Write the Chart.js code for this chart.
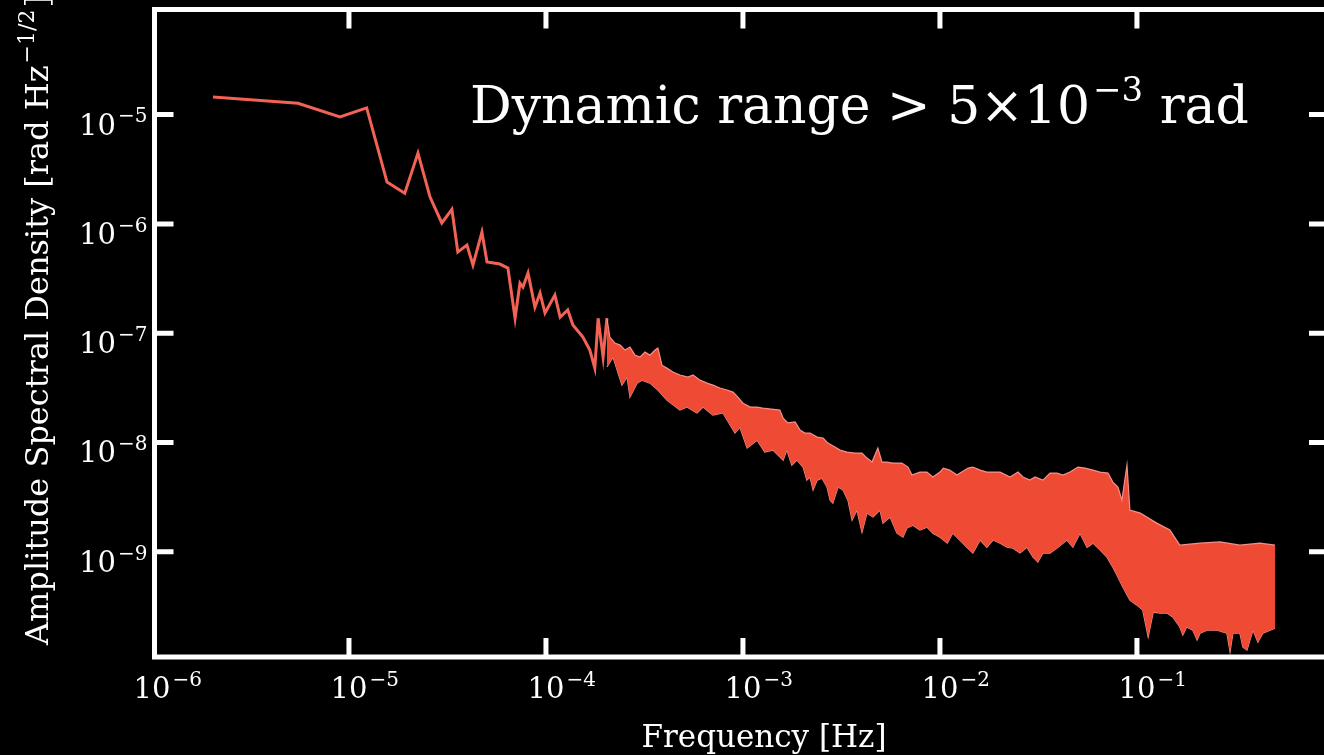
<!DOCTYPE html>
<html>
<head>
<meta charset="utf-8">
<script src="https://cdn.jsdelivr.net/npm/chart.js@4.4.1/dist/chart.umd.min.js"></script>
<style>
  html, body { margin: 0; padding: 0; background: #000; overflow: hidden; }
  #wrap { position: absolute; left: 0; top: 0; width: 1324px; height: 755px; overflow: hidden; }
</style>
</head>
<body>
<div id="wrap"><canvas id="asd" width="1340" height="755"></canvas></div>
<script>
// low-frequency part, a single trace
const lineFreq = [2.04e-6, 5.51e-6, 9.0e-6, 1.23e-5, 1.56e-5, 1.92e-5, 2.24e-5, 2.58e-5, 2.96e-5, 3.33e-5,
  3.57e-5, 3.97e-5, 4.26e-5, 4.73e-5, 5.02e-5, 5.83e-5, 6.41e-5, 6.97e-5, 7.38e-5, 7.64e-5,
  8.11e-5, 8.79e-5, 9.33e-5, 9.89e-5, 1.11e-4, 1.18e-4, 1.29e-4, 1.37e-4, 1.54e-4, 1.67e-4,
  1.77e-4, 1.84e-4, 1.95e-4, 2.04e-4];
const lineAsd = [1.45e-5, 1.27e-5, 9.5e-6, 1.15e-5, 2.41e-6, 1.91e-6, 4.44e-6, 1.76e-6, 1.02e-6, 1.36e-6,
  5.52e-7, 6.40e-7, 4.20e-7, 8.41e-7, 4.48e-7, 4.29e-7, 3.94e-7, 1.37e-7, 2.87e-7, 2.64e-7,
  3.55e-7, 1.73e-7, 2.33e-7, 1.53e-7, 2.23e-7, 1.40e-7, 1.63e-7, 1.19e-7, 9.2e-8, 7.0e-8,
  4.80e-8, 1.37e-7, 6.04e-8, 1.37e-7];

// high-frequency part, the noise band: upper edge
const upperFreq = [2.04e-4, 2.11e-4, 2.24e-4, 2.38e-4, 2.52e-4, 2.67e-4, 2.83e-4, 3.00e-4, 3.18e-4, 3.37e-4,
  3.58e-4, 3.70e-4, 3.88e-4, 4.11e-4, 4.41e-4, 4.79e-4, 5.26e-4, 5.58e-4, 6.05e-4, 6.57e-4,
  7.04e-4, 7.64e-4, 8.30e-4, 8.90e-4, 9.43e-4, 1.00e-3, 1.09e-3, 1.18e-3, 1.26e-3, 1.54e-3,
  1.60e-3, 1.69e-3, 1.84e-3, 1.95e-3, 2.06e-3, 2.19e-3, 2.38e-3, 2.55e-3, 2.70e-3, 2.93e-3,
  3.11e-3, 3.37e-3, 3.70e-3, 4.02e-3, 4.26e-3, 4.52e-3, 4.84e-3, 5.08e-3, 5.38e-3, 5.77e-3,
  6.41e-3, 6.88e-3, 7.21e-3, 7.91e-3, 8.59e-3, 9.21e-3, 1.00e-2, 1.04e-2, 1.12e-2, 1.22e-2,
  1.29e-2, 1.39e-2, 1.47e-2, 1.60e-2, 1.73e-2, 1.86e-2, 2.02e-2, 2.27e-2, 2.49e-2, 2.64e-2,
  2.86e-2, 3.04e-2, 3.33e-2, 3.62e-2, 3.93e-2, 4.21e-2, 4.57e-2, 5.02e-2, 5.45e-2, 5.98e-2,
  6.49e-2, 7.13e-2, 7.55e-2, 8.01e-2, 8.39e-2, 8.90e-2, 9.21e-2, 1.04e-1, 1.26e-1, 1.47e-1,
  1.65e-1, 2.09e-1, 2.64e-1, 3.33e-1, 4.21e-1, 5.02e-1];
const upperAsd = [1.37e-7, 9.21e-8, 8.12e-8, 7.78e-8, 7.01e-8, 7.46e-8, 6.30e-8, 6.04e-8, 6.72e-8, 6.30e-8,
  7.01e-8, 7.31e-8, 5.10e-8, 4.79e-8, 4.41e-8, 4.14e-8, 3.97e-8, 4.14e-8, 3.72e-8, 3.49e-8,
  3.35e-8, 3.15e-8, 3.02e-8, 2.89e-8, 2.60e-8, 2.29e-8, 2.11e-8, 2.11e-8, 2.06e-8, 1.98e-8,
  1.67e-8, 1.51e-8, 1.54e-8, 1.30e-8, 1.22e-8, 1.22e-8, 1.12e-8, 1.10e-8, 9.87e-9, 9.08e-9,
  8.52e-9, 8.17e-9, 8.00e-9, 8.00e-9, 7.20e-9, 6.62e-9, 8.89e-9, 6.62e-9, 6.62e-9, 6.48e-9,
  6.48e-9, 5.96e-9, 5.03e-9, 5.36e-9, 5.36e-9, 4.83e-9, 5.36e-9, 5.83e-9, 5.59e-9, 5.03e-9,
  5.36e-9, 5.83e-9, 5.96e-9, 5.59e-9, 5.36e-9, 5.36e-9, 5.36e-9, 4.83e-9, 5.36e-9, 4.83e-9,
  4.53e-9, 4.83e-9, 4.53e-9, 5.25e-9, 5.25e-9, 5.03e-9, 5.36e-9, 5.96e-9, 5.83e-9, 5.59e-9,
  5.36e-9, 5.25e-9, 4.34e-9, 3.91e-9, 2.97e-9, 6.21e-9, 2.41e-9, 2.26e-9, 1.83e-9, 1.58e-9,
  1.15e-9, 1.20e-9, 1.23e-9, 1.15e-9, 1.20e-9, 1.15e-9];

// noise band: lower edge
const lowerFreq = [2.04e-4, 2.19e-4, 2.43e-4, 2.58e-4, 2.67e-4, 2.90e-4, 3.07e-4, 3.37e-4, 3.70e-4, 4.11e-4,
  4.79e-4, 5.20e-4, 5.84e-4, 6.27e-4, 7.04e-4, 7.91e-4, 9.11e-4, 9.65e-4, 1.05e-3, 1.18e-3,
  1.29e-3, 1.42e-3, 1.60e-3, 1.67e-3, 1.77e-3, 1.88e-3, 2.02e-3, 2.11e-3, 2.19e-3, 2.27e-3,
  2.38e-3, 2.52e-3, 2.67e-3, 2.77e-3, 2.86e-3, 3.04e-3, 3.22e-3, 3.41e-3, 3.58e-3, 3.79e-3,
  4.02e-3, 4.26e-3, 4.57e-3, 4.96e-3, 5.14e-3, 5.58e-3, 6.05e-3, 6.49e-3, 6.80e-3, 7.29e-3,
  7.91e-3, 8.59e-3, 9.21e-3, 1.00e-2, 1.09e-2, 1.16e-2, 1.26e-2, 1.37e-2, 1.47e-2, 1.60e-2,
  1.73e-2, 1.86e-2, 2.02e-2, 2.19e-2, 2.35e-2, 2.55e-2, 2.76e-2, 2.97e-2, 3.14e-2, 3.33e-2,
  3.62e-2, 3.93e-2, 4.41e-2, 4.73e-2, 5.14e-2, 5.58e-2, 5.98e-2, 6.49e-2, 7.04e-2, 7.55e-2,
  7.91e-2, 8.49e-2, 9.21e-2, 1.00e-1, 1.07e-1, 1.14e-1, 1.21e-1, 1.31e-1, 1.42e-1, 1.52e-1,
  1.65e-1, 1.71e-1, 1.79e-1, 1.92e-1, 2.02e-1, 2.09e-1, 2.27e-1, 2.55e-1, 2.86e-1, 2.97e-1,
  3.07e-1, 3.33e-1, 3.45e-1, 3.62e-1, 3.88e-1, 4.11e-1, 4.36e-1, 5.02e-1];
const lowerAsd = [4.90e-8, 6.04e-8, 3.35e-8, 3.97e-8, 2.60e-8, 3.49e-8, 3.72e-8, 3.49e-8, 3.02e-8, 2.44e-8,
  1.98e-8, 2.11e-8, 1.86e-8, 2.11e-8, 1.78e-8, 1.86e-8, 1.22e-8, 1.38e-8, 8.89e-9, 1.05e-8,
  8.17e-9, 8.52e-9, 6.90e-9, 8.52e-9, 6.21e-9, 6.90e-9, 5.96e-9, 4.53e-9, 4.83e-9, 3.67e-9,
  4.53e-9, 4.72e-9, 3.91e-9, 2.97e-9, 2.79e-9, 3.91e-9, 3.67e-9, 2.97e-9, 1.95e-9, 2.41e-9,
  1.51e-9, 2.26e-9, 2.08e-9, 2.41e-9, 1.83e-9, 2.08e-9, 1.48e-9, 1.36e-9, 1.65e-9, 1.75e-9,
  1.58e-9, 1.68e-9, 1.48e-9, 1.36e-9, 1.20e-9, 1.48e-9, 1.28e-9, 1.10e-9, 9.73e-10, 1.28e-9,
  1.10e-9, 1.28e-9, 1.20e-9, 1.10e-9, 1.08e-9, 9.73e-10, 1.10e-9, 8.94e-10, 8.05e-10, 9.73e-10,
  9.73e-10, 1.08e-9, 1.28e-9, 1.10e-9, 1.48e-9, 1.10e-9, 1.20e-9, 1.04e-9, 8.94e-10, 7.24e-10,
  6.12e-10, 4.75e-10, 3.61e-10, 3.25e-10, 2.93e-10, 1.66e-10, 2.81e-10, 2.75e-10, 2.75e-10, 2.53e-10,
  2.05e-10, 1.73e-10, 2.05e-10, 1.92e-10, 1.56e-10, 1.80e-10, 1.92e-10, 1.92e-10, 1.80e-10, 1.21e-10,
  1.80e-10, 1.80e-10, 1.34e-10, 1.26e-10, 1.92e-10, 1.49e-10, 1.80e-10, 2.00e-10];

// decade exponents for the tick labels
const xTickExp = [-6, -5, -4, -3, -2, -1];
const yTickExp = [-9, -8, -7, -6, -5];

const pts = (xs, ys) => xs.map((x, i) => ({ x: x, y: ys[i] }));
const FONT = '"DejaVu Serif", serif';

function drawPow(ctx, x, y, size, exp, mode) {
  // "10" with a raised exponent; 'center' centres the 10 on x, 'right' ends the label at x
  const expSize = Math.round(size * 0.7);
  ctx.font = size + 'px ' + FONT;
  const w10 = ctx.measureText('10').width;
  ctx.font = expSize + 'px ' + FONT;
  const wExp = ctx.measureText(exp).width;
  const x0 = mode === 'center' ? x - w10 / 2 : x - w10 - wExp - 2;
  ctx.textAlign = 'left';
  ctx.font = size + 'px ' + FONT;
  ctx.fillText('10', x0, y);
  ctx.font = expSize + 'px ' + FONT;
  ctx.fillText(exp, x0 + w10 + 2, y - size * 0.42);
}

const frame = {
  id: 'frame',
  afterDraw(chart) {
    const ctx = chart.ctx;
    const a = chart.chartArea;
    const sx = chart.scales.x, sy = chart.scales.y;
    ctx.save();
    ctx.strokeStyle = '#fff';
    ctx.fillStyle = '#fff';
    ctx.lineWidth = 5;
    ctx.strokeRect(a.left, a.top, a.right - a.left, a.bottom - a.top);

    // inward ticks
    ctx.beginPath();
    xTickExp.forEach(e => {
      const px = sx.getPixelForValue(Math.pow(10, e));
      if (px < a.left + 5) return;
      ctx.moveTo(px, a.bottom); ctx.lineTo(px, a.bottom - 19);
      ctx.moveTo(px, a.top); ctx.lineTo(px, a.top + 19);
    });
    yTickExp.forEach(e => {
      const py = sy.getPixelForValue(Math.pow(10, e));
      ctx.moveTo(a.left, py); ctx.lineTo(a.left + 19, py);
      ctx.moveTo(a.right, py); ctx.lineTo(a.right - 19, py);
    });
    ctx.stroke();

    // tick labels
    ctx.textBaseline = 'alphabetic';
    xTickExp.forEach(e => {
      const px = sx.getPixelForValue(Math.pow(10, e));
      drawPow(ctx, px, a.bottom + 41, 29, '\u2212' + (-e), 'center');
    });
    yTickExp.forEach(e => {
      const py = sy.getPixelForValue(Math.pow(10, e));
      drawPow(ctx, a.left - 7, py + 20, 29, '\u2212' + (-e), 'right');
    });

    // axis titles
    ctx.font = '31px ' + FONT;
    ctx.textAlign = 'center';
    ctx.fillText('Frequency [Hz]', 764, 747);

    ctx.translate(48, 645);
    ctx.rotate(-Math.PI / 2);
    ctx.textAlign = 'left';
    ctx.font = '32px ' + FONT;
    const s = 'Amplitude Spectral Density [rad Hz';
    ctx.fillText(s, 0, 0);
    let w = ctx.measureText(s).width;
    ctx.font = '22px ' + FONT;
    ctx.fillText('\u22121/2', w + 2, -14);
    w += ctx.measureText('\u22121/2').width + 4;
    ctx.font = '32px ' + FONT;
    ctx.fillText(']', w, 0);
    ctx.setTransform(1, 0, 0, 1, 0, 0);

    // annotation
    ctx.font = '52px ' + FONT;
    ctx.textAlign = 'left';
    const t = 'Dynamic range > 5\u00d710';
    ctx.fillText(t, 470, 123);
    let tw = ctx.measureText(t).width;
    ctx.font = '34px ' + FONT;
    ctx.fillText('\u22123', 470 + tw + 3, 101);
    tw += ctx.measureText('\u22123').width + 3;
    ctx.font = '52px ' + FONT;
    ctx.fillText(' rad', 470 + tw, 123);
    ctx.restore();
  }
};

new Chart(document.getElementById('asd'), {
  type: 'line',
  data: {
    datasets: [
      {
        label: 'band upper',
        data: pts(upperFreq, upperAsd),
        borderColor: 'rgba(250,150,145,0.95)',
        borderWidth: 1.2,
        backgroundColor: '#ee4a34',
        fill: '+1',
        pointRadius: 0,
        tension: 0
      },
      {
        label: 'band lower',
        data: pts(lowerFreq, lowerAsd),
        borderColor: 'rgba(250,150,145,0.95)',
        borderWidth: 1.2,
        fill: false,
        pointRadius: 0,
        tension: 0
      },
      {
        label: 'ASD',
        data: pts(lineFreq, lineAsd),
        borderColor: '#f26356',
        borderWidth: 3,
        fill: false,
        pointRadius: 0,
        tension: 0
      }
    ]
  },
  options: {
    responsive: false,
    animation: false,
    events: [],
    layout: { padding: { left: 154.5, right: 12, top: 9.5, bottom: 98 } },
    plugins: { legend: { display: false }, tooltip: { enabled: false } },
    scales: {
      x: { type: 'logarithmic', display: false, min: 1.03e-6, max: 0.933 },
      y: { type: 'logarithmic', display: false, min: 1.09e-10, max: 9.15e-5 }
    }
  },
  plugins: [frame]
});
</script>
</body>
</html>
